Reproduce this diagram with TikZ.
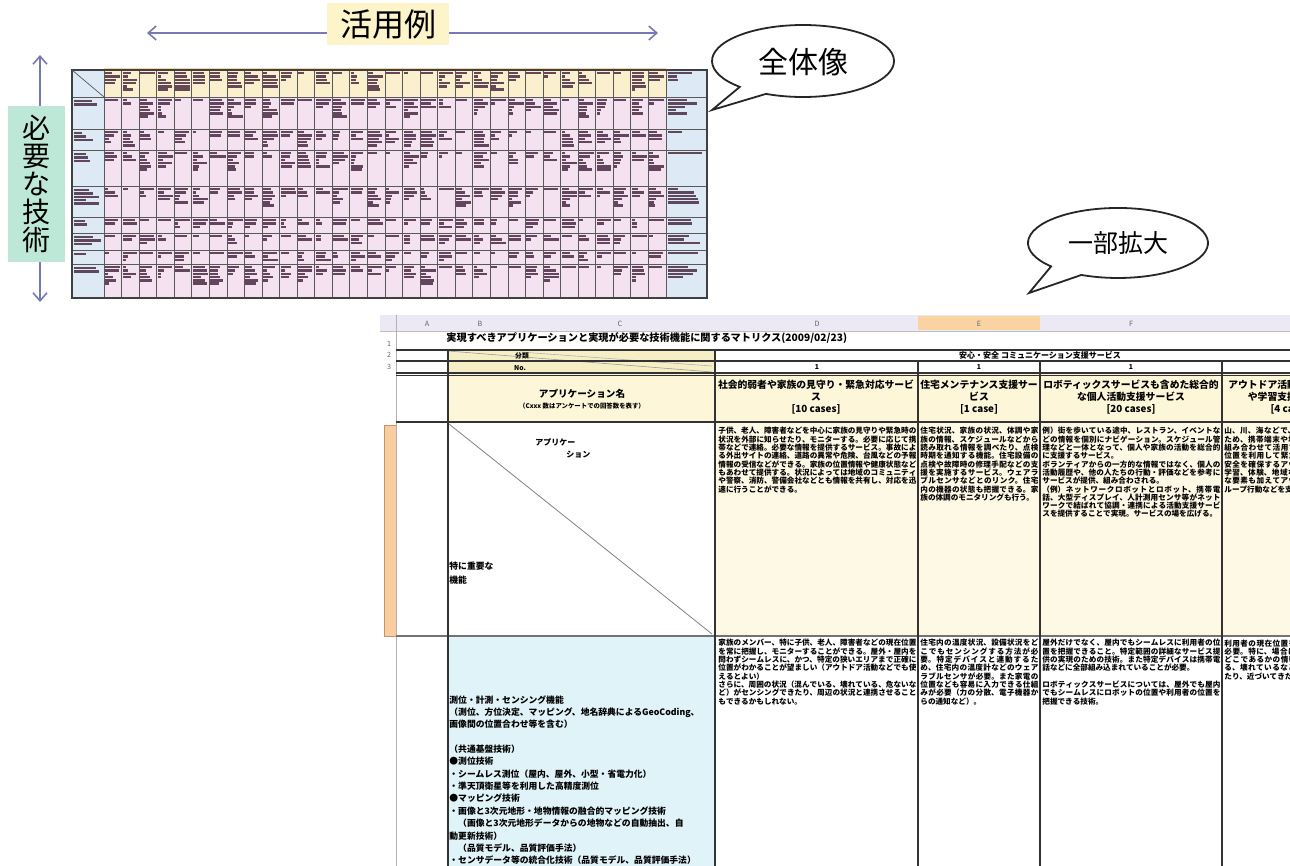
\documentclass[tikz,border=0pt]{standalone}
\usepackage{fontspec}
\setmainfont{Noto Sans CJK JP}
\usetikzlibrary{arrows.meta}
\XeTeXlinebreaklocale "ja"
\XeTeXlinebreakskip=0pt plus 1pt
\definecolor{arrowc}{HTML}{7779B2}
\definecolor{labyellow}{HTML}{FDF5C9}
\definecolor{labteal}{HTML}{BDE7D6}
\definecolor{thhead}{HTML}{FBF0CD}
\definecolor{thpink}{HTML}{F5E2F0}
\definecolor{thblue}{HTML}{DDE9F5}
\definecolor{scribc}{HTML}{4A2B44}
\definecolor{colhead}{HTML}{ECE8F4}
\definecolor{colsel}{HTML}{F9D3A2}
\definecolor{hdrcream}{HTML}{FDF6D8}
\definecolor{bodycream}{HTML}{FDF9E4}
\definecolor{cyanc}{HTML}{E0F3F8}
\definecolor{orangebar}{HTML}{F8CDA0}
\definecolor{catyellow}{HTML}{F6EFC6}
\begin{document}
\begin{tikzpicture}[x=0.5pt,y=-0.5pt,
  bigarrow/.style={draw=arrowc, line width=0.8pt, {Straight Barb[length=4pt,width=7pt]}-{Straight Barb[length=4pt,width=7pt]}},
  callout/.style={draw=black!85, line width=0.9pt, fill=white},
  calltext/.style={inner sep=0pt, font=\fontsize{#1}{#1}\selectfont},
  thline/.style={draw=black!65, line width=0.35pt},
  thframe/.style={draw=black!75, line width=0.6pt},
  scrib/.style={fill=scribc, opacity=0.85},
  gline/.style={draw=black!80, line width=0.6pt},
  gthick/.style={draw=black!80, line width=0.9pt},
  ctext/.style={anchor=north west, inner sep=0pt, text width=#1, align=justify, font=\fontsize{3.8pt}{4.15pt}\selectfont\bfseries},
  hdr/.style={align=center, inner sep=0pt, font=\fontsize{4.9pt}{6pt}\selectfont\bfseries},
  tinyt/.style={inner sep=0pt, font=\fontsize{3.4pt}{4pt}\selectfont\bfseries},
  colletter/.style={inner sep=0pt, text=black!60, font=\fontsize{3.6pt}{4pt}\selectfont}
]
\useasboundingbox (0,0) rectangle (1290,866);

% ---------- axis arrows and labels
\coordinate (hL) at (147,33);
\coordinate (hR) at (658,33);
\draw[bigarrow] (hL) -- (hR);
\node[fill=labyellow, minimum width=61pt, minimum height=21pt, inner sep=0pt,
      font=\fontsize{16pt}{16pt}\selectfont] (katsuyo) at (388,24) {活用例};

\coordinate (vT) at (40,55);
\coordinate (vB) at (40,302);
\draw[bigarrow] (vT) -- (vB);
\node[fill=labteal, minimum width=28.5pt, minimum height=78pt, inner sep=0pt, align=center,
      font=\fontsize{14pt}{14pt}\selectfont] (hitsuyo) at (36.5,184) {必\\要\\な\\技\\術};

% ---------- thumbnail of the whole matrix
\fill[thhead] (104,70) rectangle (666,97);
\fill[thpink] (104,97) rectangle (666,298);
\fill[thblue] (72,70) rectangle (104,298);
\fill[thblue] (666,70) rectangle (707,298);
\draw[draw=orange!35, line width=1pt] (104,69.5) -- (666,69.5);
\pgfmathsetseed{3}
\foreach \ya/\yb in {70/97,97/129,129/150,150/186,186/217,217/233,233/250,250/264,264/298}{
  \pgfmathtruncatemacro{\maxn}{max(1,min(6,floor((\yb-\ya-4)/3.3)))}
  \foreach \c in {0,...,31}{
    \pgfmathrandominteger{\nl}{1}{\maxn}
    \foreach \k in {1,...,\nl}{
      \pgfmathsetmacro{\len}{3+12.5*rnd}
      \fill[scrib] ({105+\c*17.56},{\ya+2+(\k-1)*3.3}) rectangle ++(\len,2.5);
    }
  }
  \pgfmathrandominteger{\nr}{1}{\maxn}
  \foreach \k in {1,...,\nr}{
    \pgfmathsetmacro{\len}{8+28*rnd}
    \fill[scrib] (668,{\ya+2+(\k-1)*3.3}) rectangle ++(\len,2.5);
  }
}
\foreach \ya/\yb in {97/129,129/150,150/186,186/217,217/233,233/250,250/264,264/298}{
  \pgfmathtruncatemacro{\maxn}{max(1,min(5,floor((\yb-\ya-4)/3.3)))}
  \pgfmathrandominteger{\nl}{1}{\maxn}
  \foreach \k in {1,...,\nl}{
    \pgfmathsetmacro{\len}{6+22*rnd}
    \fill[scrib] (74,{\ya+3+(\k-1)*3.3}) rectangle ++(\len,2.5);
  }
}
\foreach \c in {0,...,32} \draw[thline] ({104+\c*17.56},70) -- ({104+\c*17.56},298);
\foreach \y in {97,129,150,186,217,233,250,264} \draw[thline] (72,\y) -- (707,\y);
\draw[thframe] (72,70) rectangle (707,298);
\draw[thline] (72,70) -- (104,97);

% ---------- callouts
\coordinate (tipA) at (712,110);
\draw[callout] (tipA) -- (739.8,86.9) arc[start angle=134, end angle=474, x radius=91, y radius=36] -- cycle;
\node[calltext=15pt] (zentai) at (803,62) {全体像};

\coordinate (tipB) at (1029,293);
\draw[callout] (tipB) -- (1051.1,266.4) arc[start angle=138, end angle=474, x radius=90, y radius=35] -- cycle;
\node[calltext=12.5pt] (ichibu) at (1118,243) {一部拡大};

% ---------- enlarged part of the matrix
\begin{scope}
\clip (380,314) rectangle (1290,866);
\fill[colhead] (380,315) rectangle (1290,331);
\fill[colsel] (918,316) rectangle (1040,330);
\draw[draw=black!25, line width=0.4pt] (380,331) -- (1290,331);
\node[colletter] (cA) at (427,324) {A};
\node[colletter] (cB) at (480,324) {B};
\node[colletter] (cC) at (620,324) {C};
\node[colletter] (cD) at (817,324) {D};
\node[colletter] (cE) at (979,324) {E};
\node[colletter] (cF) at (1131,324) {F};
\node[colletter] (r1) at (389,344) {1};
\node[colletter] (r2) at (389,355) {2};
\node[colletter] (r3) at (389,367) {3};
\node[colletter] (r4) at (390,430) {4};

\fill[catyellow] (448,350) rectangle (715,373);
\fill[hdrcream] (448,374) rectangle (1290,422);
\fill[bodycream] (715,422) rectangle (1290,636);
\fill[cyanc] (448,636) rectangle (715,866);
\fill[orangebar] (384,425) rectangle (396,636);
\draw[draw=orange!60!black!60, line width=0.3pt] (384,425) rectangle (396,636);
\draw[draw=black!40, line width=0.3pt] (448,351) -- (712,372);
\draw[draw=black!30, line width=0.3pt] (520,352) -- (712,366);

\draw[draw=black!30, line width=0.3pt] (396,315) -- (396,866);
\draw[gthick] (396,350) -- (1290,350);
\draw[gthick] (396,361) -- (1290,361);
\draw[gthick] (396,373) -- (1290,373);
\draw[gline] (396,375.5) -- (1290,375.5);
\draw[gthick] (396,422) -- (1290,422);
\draw[draw=black!55, line width=1pt] (396,636) -- (1290,636);
\draw[gthick] (448,350) -- (448,866);
\draw[gthick] (715,350) -- (715,866);
\draw[gthick] (918,361) -- (918,866);
\draw[gthick] (1040,361) -- (1040,866);
\draw[gthick] (1222,361) -- (1222,866);
\draw[draw=black!50, line width=0.4pt] (449,424) -- (712,634);

\node[anchor=west, inner sep=0pt, font=\fontsize{5.1pt}{6pt}\selectfont\bfseries] (title) at (446,338)
  {実現すべきアプリケーションと実現が必要な技術機能に関するマトリクス(2009/02/23)};
\node[tinyt] (bunrui) at (522,356) {分類};
\node[tinyt] (no) at (520,368) {No.};
\node[tinyt, font=\fontsize{4pt}{4pt}\selectfont\bfseries] (cat) at (1040,355) {安心・安全 コミュニケーション支援サービス};
\node[tinyt] (n1) at (817,367) {1};
\node[tinyt] (n2) at (979,367) {1};
\node[tinyt] (n3) at (1131,367) {1};

\node[inner sep=0pt, font=\fontsize{4.8pt}{5pt}\selectfont\bfseries] (appname) at (582,394) {アプリケーション名};
\node[inner sep=0pt, font=\fontsize{3.2pt}{4pt}\selectfont\bfseries] (appnote) at (582,406) {（Cxxx 数はアンケートでの回答数を表す）};
\node[hdr] (hD) at (816,397) {社会的弱者や家族の見守り・緊急対応サービ\\ス\\{[}10 cases{]}};
\node[hdr] (hE) at (979,397) {住宅メンテナンス支援サー\\ビス\\{[}1 case{]}};
\node[hdr] (hF) at (1131,397) {ロボティックスサービスも含めた総合的\\な個人活動支援サービス\\{[}20 cases{]}};
\node[hdr] (hG) at (1292,397) {アウトドア活動時の安全確保\\や学習支援サービス\\{[}4 cases{]}};

\node[inner sep=0pt, anchor=west, font=\fontsize{4pt}{4pt}\selectfont\bfseries] (apA) at (535,442) {アプリケー};
\node[inner sep=0pt, anchor=west, font=\fontsize{4pt}{4pt}\selectfont\bfseries] (apB) at (566,455) {ション};
\node[inner sep=0pt, anchor=north west, align=left, font=\fontsize{4.4pt}{7pt}\selectfont\bfseries] (juyo) at (449,562) {特に重要な\\機能};

\node[ctext=99pt] (d4) at (718,427) {子供、老人、障害者などを中心に家族の見守りや緊急時の状況を外部に知らせたり、モニターする。必要に応じて携帯などで連絡。必要な情報を提供するサービス。事故による外出サイトの連絡、道路の異常や危険、台風などの予報情報の受信などができる。家族の位置情報や健康状態などもあわせて提供する。状況によっては地域のコミュニティや警察、消防、警備会社などとも情報を共有し、対応を迅速に行うことができる。};
\node[ctext=59pt] (e4) at (920,427) {住宅状況、家族の状況、体調や家族の情報、スケジュールなどから読み取れる情報を調べたり、点検時期を通知する機能。住宅設備の点検や故障時の修理手配などの支援を実施するサービス。ウェアラブルセンサなどとのリンク。住宅内の機器の状態も把握できる。家族の体調のモニタリングも行う。};
\node[ctext=89pt] (f4) at (1042,427) {例）街を歩いている途中、レストラン、イベントなどの情報を個別にナビゲーション。スケジュール管理などと一体となって、個人や家族の活動を総合的に支援するサービス。\\ボランティアからの一方的な情報ではなく、個人の活動履歴や、他の人たちの行動・評価などを参考にサービスが提供、組み合わされる。\\（例）ネットワークロボットとロボット、携帯電話、大型ディスプレイ、人計測用センサ等がネットワークで結ばれて協調・連携による活動支援サービスを提供することで実現。サービスの場を広げる。};
\node[ctext=68pt] (g4) at (1224,427) {山、川、海などで、安全性を確保するため、携帯端末や地理情報システムを組み合わせて活用する。人が現在いる位置を利用して緊急時にも対応する。安全を確保するアウトドア活動による学習、体験、地域などのゲームのような要素も加えてアウトドア活動でのグループ行動などを支援する。};

\node[ctext=99pt] (d5) at (718,639) {家族のメンバー、特に子供、老人、障害者などの現在位置を常に把握し、モニターすることができる。屋外・屋内を問わずシームレスに、かつ、特定の狭いエリアまで正確に位置がわかることが望ましい（アウトドア活動などでも使えるとよい）\\さらに、周囲の状況（混んでいる、壊れている、危ないなど）がセンシングできたり、周辺の状況と連携させることもできるかもしれない。};
\node[ctext=59pt] (e5) at (920,639) {住宅内の温度状況、設備状況をどこでもセンシングする方法が必要。特定デバイスと連動するため、住宅内の温度計などのウェアラブルセンサが必要。また家電の位置なども容易に入力できる仕組みが必要（力の分散、電子機器からの通知など）。};
\node[ctext=89pt] (f5) at (1042,639) {屋外だけでなく、屋内でもシームレスに利用者の位置を把握できること。特定範囲の詳細なサービス提供の実現のための技術。また特定デバイスは携帯電話などに全部組み込まれていることが必要。\\[4.15pt]ロボティックスサービスについては、屋外でも屋内でもシームレスにロボットの位置や利用者の位置を把握できる技術。};
\node[ctext=68pt] (g5) at (1224,639) {利用者の現在位置を把握できることが必要。特に、場合によっては、場所がどこであるかの情報も必要。揺れている、壊れているなどがセンシングできたり、近づいてきたりするとよい。};

\node[anchor=north west, inner sep=0pt, align=left, font=\fontsize{4.4pt}{6.2pt}\selectfont\bfseries] (tech) at (449,695)
 {測位・計測・センシング機能\\
  （測位、方位決定、マッピング、地名辞典によるGeoCoding、\\
  画像間の位置合わせ等を含む）\\[6pt]
  （共通基盤技術）\\
  ●測位技術\\
  ・シームレス測位（屋内、屋外、小型・省電力化）\\
  ・準天頂衛星等を利用した高精度測位\\
  ●マッピング技術\\
  ・画像と3次元地形・地物情報の融合的マッピング技術\\
  \quad（画像と3次元地形データからの地物などの自動抽出、自\\
  動更新技術）\\
  \quad（品質モデル、品質評価手法）\\
  ・センサデータ等の統合化技術（品質モデル、品質評価手法）};
\end{scope}
\end{tikzpicture}
\end{document}
